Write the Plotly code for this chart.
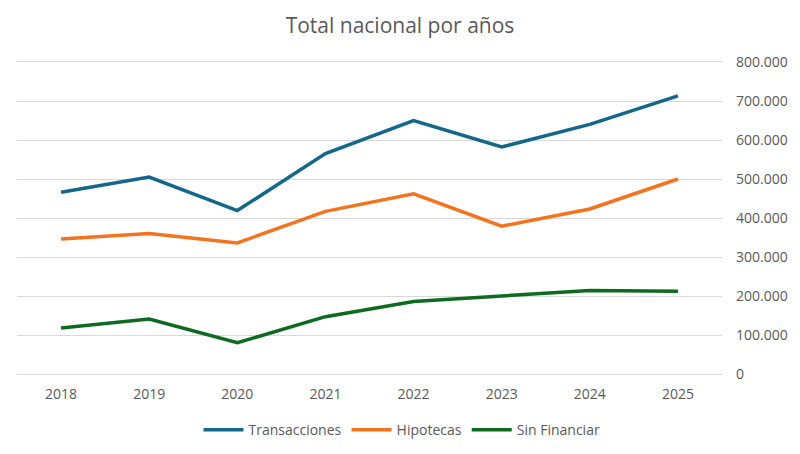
import plotly.graph_objects as go

# Totales nacionales por año
years = ["2018", "2019", "2020", "2021", "2022", "2023", "2024", "2025"]
transacciones = [466000, 505000, 419000, 565000, 650000, 582000, 640000, 713000]
hipotecas = [346000, 360000, 336000, 417000, 462000, 379000, 423000, 500000]
sin_financiar = [118000, 141000, 80000, 147000, 186000, 201000, 214000, 212000]

y_ticks = [0, 100000, 200000, 300000, 400000, 500000, 600000, 700000, 800000]

series = [
    ("Transacciones", transacciones, "#12678A"),
    ("Hipotecas", hipotecas, "#F4731F"),
    ("Sin Financiar", sin_financiar, "#0C6B1F"),
]

fig = go.Figure()
for name, values, color in series:
    fig.add_trace(go.Scatter(
        x=years, y=values, name=name, mode="lines",
        line=dict(color=color, width=3.5),
    ))

# the page adds an 8px body margin, so everything is shifted up/left by 8px here
fig.update_layout(
    width=800, height=454,
    paper_bgcolor="white", plot_bgcolor="white",
    font=dict(family="Open Sans", color="#595959", size=14),
    separators=",.",
    title=dict(text="Total nacional por años", x=0.49, xanchor="center",
               yref="container", y=0.962, yanchor="middle",
               font=dict(size=21, color="#595959")),
    margin=dict(l=9, r=86, t=54, b=88),
    showlegend=True,
    legend=dict(orientation="h", xref="container", x=0.4925, xanchor="center",
                yref="container", y=0.07, yanchor="middle",
                font=dict(size=14, color="#595959"), itemwidth=40),
    xaxis=dict(type="category", range=[-0.5, 7.5], showgrid=False,
               showline=True, mirror=True, linecolor="#D9D9D9", linewidth=1,
               ticks="", zeroline=False, automargin=False,
               ticklabelstandoff=7,
               tickfont=dict(size=14, color="#595959")),
    yaxis=dict(side="right", range=[0, 800000], tickvals=y_ticks,
               tickformat=",d", showgrid=True, gridcolor="#D9D9D9",
               gridwidth=1, zeroline=False, ticks="", automargin=False,
               ticklabelstandoff=13,
               tickfont=dict(size=14, color="#595959")),
)

fig.write_html("out.html")
